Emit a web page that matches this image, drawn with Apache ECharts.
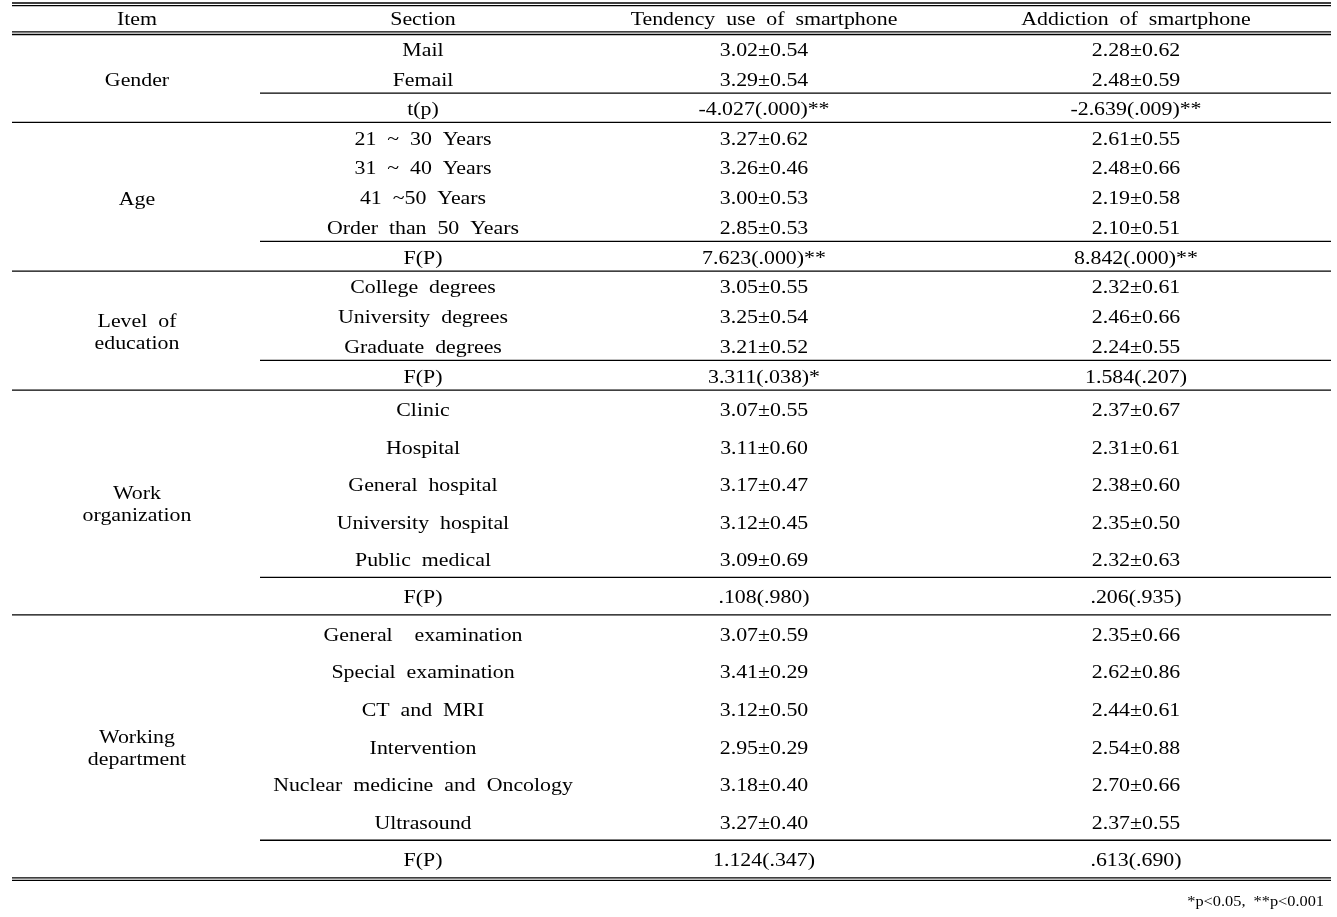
<!DOCTYPE html>
<html>
<head>
<meta charset="utf-8">
<script src="https://cdn.jsdelivr.net/npm/echarts@6/dist/echarts.min.js"></script>
<style>
html,body{margin:0;padding:0;background:#fff;}
#chart{width:1337px;height:917px;}
</style>
</head>
<body>
<div id="chart"></div>
<script>
// ---------- data ----------
const headers = ['Item', 'Section', 'Tendency  use  of  smartphone', 'Addiction  of  smartphone'];
const items = ['Gender', 'Age', 'Level  of\neducation', 'Work\norganization', 'Working\ndepartment'];
const sections = [
  ['Mail', 'Femail'],
  ['21  ~  30  Years', '31  ~  40  Years', '41  ~50  Years', 'Order  than  50  Years'],
  ['College  degrees', 'University  degrees', 'Graduate  degrees'],
  ['Clinic', 'Hospital', 'General  hospital', 'University  hospital', 'Public  medical'],
  ['General    examination', 'Special  examination', 'CT  and  MRI', 'Intervention', 'Nuclear  medicine  and  Oncology', 'Ultrasound']
];
const tendencyMean = [[3.02, 3.29], [3.27, 3.26, 3.00, 2.85], [3.05, 3.25, 3.21], [3.07, 3.11, 3.17, 3.12, 3.09], [3.07, 3.41, 3.12, 2.95, 3.18, 3.27]];
const tendencySD   = [[0.54, 0.54], [0.62, 0.46, 0.53, 0.53], [0.55, 0.54, 0.52], [0.55, 0.60, 0.47, 0.45, 0.69], [0.59, 0.29, 0.50, 0.29, 0.40, 0.40]];
const addictionMean = [[2.28, 2.48], [2.61, 2.48, 2.19, 2.10], [2.32, 2.46, 2.24], [2.37, 2.31, 2.38, 2.35, 2.32], [2.35, 2.62, 2.44, 2.54, 2.70, 2.37]];
const addictionSD   = [[0.62, 0.59], [0.55, 0.66, 0.58, 0.51], [0.61, 0.66, 0.55], [0.67, 0.61, 0.60, 0.50, 0.63], [0.66, 0.86, 0.61, 0.88, 0.66, 0.55]];
const statLabels = ['t(p)', 'F(P)', 'F(P)', 'F(P)', 'F(P)'];
const tendencyStat = ['-4.027(.000)**', '7.623(.000)**', '3.311(.038)*', '.108(.980)', '1.124(.347)'];
const addictionStat = ['-2.639(.009)**', '8.842(.000)**', '1.584(.207)', '.206(.935)', '.613(.690)'];
const footnote = '*p<0.05,  **p<0.001';

// ---------- layout ----------
const colX = [137, 423, 764, 1136];
const tableLeft = 12, sectionLeft = 260, tableRight = 1331;
const rowH = [29.3, 29.75, 29.75, 37.45, 37.57];
const headerTop = 3, headerY = 20.5, headerBottom = 34.5, dbl = 2.6;
const textDy = 2.3;

const cells = [];   // [x, y, text, kind]
const rules = [];   // [x1, y1, x2, y2]
const fmt = (m, s) => m.toFixed(2) + '±' + s.toFixed(2);

headers.forEach((h, i) => cells.push([colX[i], headerY, h, 'n']));
rules.push([tableLeft, headerTop, tableRight, headerTop]);
rules.push([tableLeft, headerTop + dbl, tableRight, headerTop + dbl]);
rules.push([tableLeft, headerBottom - dbl, tableRight, headerBottom - dbl]);
rules.push([tableLeft, headerBottom, tableRight, headerBottom]);

let groupTop = headerBottom;
items.forEach((item, g) => {
  const n = sections[g].length;
  const h = rowH[g];
  const bottom = groupTop + (n + 1) * h;
  cells.push([colX[0], (groupTop + bottom) / 2 + 2.8, item, 'n']);
  sections[g].forEach((s, r) => {
    const y = groupTop + (r + 0.5) * h + textDy;
    cells.push([colX[1], y, s, 'n']);
    cells.push([colX[2], y, fmt(tendencyMean[g][r], tendencySD[g][r]), 'n']);
    cells.push([colX[3], y, fmt(addictionMean[g][r], addictionSD[g][r]), 'n']);
  });
  const ys = groupTop + (n + 0.5) * h + textDy;
  cells.push([colX[1], ys, statLabels[g], 'n']);
  cells.push([colX[2], ys, tendencyStat[g], 'n']);
  cells.push([colX[3], ys, addictionStat[g], 'n']);
  rules.push([sectionLeft, groupTop + n * h, tableRight, groupTop + n * h]);
  rules.push([tableLeft, bottom, tableRight, bottom]);
  if (g === items.length - 1) rules.push([tableLeft, bottom + dbl, tableRight, bottom + dbl]);
  groupTop = bottom;
});
cells.push([1324, 902.5, footnote, 'f']);

const FONT = '"Liberation Serif", "Times New Roman", serif';

const chart = echarts.init(document.getElementById('chart'), null, {renderer: 'canvas'});
chart.setOption({
  backgroundColor: '#fff',
  animation: false,
  grid: {left: 0, right: 0, top: 0, bottom: 0},
  xAxis: {type: 'value', min: 0, max: 1337, show: false},
  yAxis: {type: 'value', min: 0, max: 917, inverse: true, show: false},
  series: [
    {
      type: 'custom',
      silent: true,
      data: rules,
      renderItem: function (params, api) {
        const p1 = api.coord([api.value(0), api.value(1)]);
        const p2 = api.coord([api.value(2), api.value(3)]);
        return {
          type: 'line',
          shape: {x1: p1[0], y1: p1[1], x2: p2[0], y2: p2[1]},
          style: {stroke: '#000', lineWidth: 1.3}
        };
      }
    },
    {
      type: 'custom',
      silent: true,
      data: cells.map(c => [c[0], c[1]]),
      renderItem: function (params, api) {
        const c = cells[params.dataIndex];
        const p = api.coord([api.value(0), api.value(1)]);
        const foot = c[3] === 'f';
        return {
          type: 'text',
          x: p[0], y: p[1],
          scaleX: 1.15,
          style: {
            text: c[2],
            fill: '#000',
            font: (foot ? '14.2px ' : '19px ') + FONT,
            lineHeight: 22,
            align: foot ? 'right' : 'center',
            verticalAlign: 'middle'
          }
        };
      }
    }
  ]
});
</script>
</body>
</html>
